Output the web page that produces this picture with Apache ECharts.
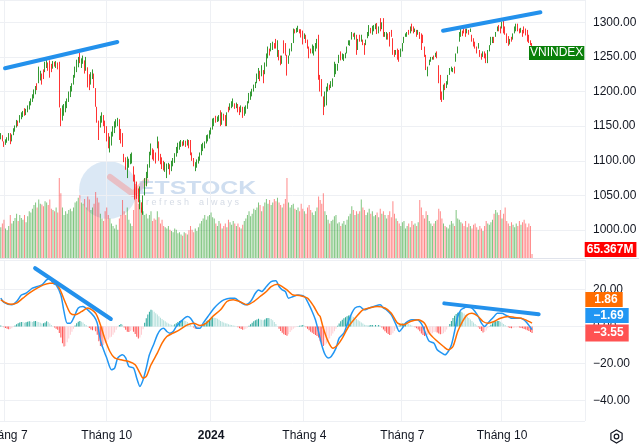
<!DOCTYPE html>
<html><head><meta charset="utf-8">
<script src="https://cdn.jsdelivr.net/npm/echarts/dist/echarts.min.js"></script>
<style>html,body{margin:0;padding:0;background:#fff}#c{width:639px;height:445px}</style>
</head><body><div id="c"></div>
<script>
// ---------- DATA ----------
const candleOpen = [
1131,1137,1128,1123,1126,1129,1140,1128,1137,1142,
1148,1158,1155,1160,1163,1176,1166,1170,1174,1180,
1185,1190,1196,1212,1212,1216,1226,1232,1228,1234,
1242,1245,1240,1233,1243,1234,1242,1243,1176,1158,
1165,1170,1176,1185,1192,1200,1210,1220,1228,1235,
1256,1234,1240,1245,1230,1235,1225,1210,1218,1226,
1205,1178,1158,1148,1155,1166,1158,1150,1140,1112,
1122,1135,1140,1148,1150,1160,1146,1140,1110,1105,
1075,1090,1095,1096,1092,1080,1070,1060,1030,1040,
1022,1050,1063,1075,1090,1108,1118,1116,1112,1118,
1128,1110,1105,1100,1084,1075,1088,1095,1085,1092,
1097,1106,1111,1116,1120,1128,1122,1129,1122,1130,
1130,1112,1104,1085,1090,1096,1100,1108,1114,1118,
1125,1128,1132,1138,1145,1150,1165,1156,1157,1173,
1152,1168,1166,1150,1178,1173,1176,1178,1183,1176,
1182,1178,1170,1178,1165,1168,1175,1183,1188,1193,
1200,1205,1212,1218,1230,1222,1231,1225,1236,1248,
1262,1258,1260,1270,1276,1250,1260,1252,1240,1274,
1270,1253,1240,1252,1258,1270,1290,1285,1286,1290,
1290,1288,1276,1282,1275,1265,1262,1255,1252,1258,
1262,1282,1224,1218,1193,1178,1180,1200,1210,1205,
1207,1221,1225,1230,1241,1258,1246,1244,1248,1255,
1267,1266,1275,1284,1275,1282,1260,1282,1272,1275,
1270,1267,1277,1280,1292,1282,1287,1290,1299,1284,
1306,1290,1306,1279,1275,1284,1286,1289,1277,1260,
1253,1262,1260,1250,1258,1270,1279,1279,1289,1284,
1298,1294,1286,1289,1282,1286,1284,1282,1265,1253,
1222,1238,1243,1246,1252,1250,1258,1238,1224,1200,
1188,1212,1205,1210,1224,1229,1228,1236,1243,1255,
1272,1279,1288,1294,1291,1284,1289,1286,1282,1277,
1272,1265,1262,1260,1255,1250,1258,1255,1241,1258,
1267,1270,1279,1279,1287,1296,1294,1291,1303,1294,
1284,1280,1268,1279,1275,1284,1287,1298,1291,1285,
1289,1294,1291,1289,1282,1274,1270
];
const candleClose = [
1140,1128,1120,1131,1134,1140,1124,1138,1147,1151,
1159,1150,1166,1170,1172,1165,1175,1180,1186,1190,
1196,1203,1208,1202,1236,1230,1210,1218,1243,1248,
1230,1220,1228,1244,1236,1244,1232,1177,1150,1180,
1182,1186,1190,1200,1208,1212,1224,1236,1246,1250,
1241,1248,1252,1226,1250,1206,1202,1228,1232,1205,
1178,1155,1130,1165,1170,1150,1140,1128,1118,1135,
1142,1150,1157,1160,1162,1130,1125,1120,1098,1087,
1106,1103,1110,1112,1070,1044,1045,1040,1063,1025,
1050,1075,1084,1095,1113,1125,1102,1100,1096,1135,
1100,1095,1088,1086,1098,1096,1097,1080,1100,1104,
1111,1120,1126,1128,1130,1121,1130,1120,1131,1118,
1108,1100,1092,1098,1102,1106,1112,1124,1126,1128,
1137,1138,1144,1148,1161,1162,1155,1164,1166,1150,
1170,1158,1150,1170,1170,1183,1186,1190,1175,1184,
1170,1166,1180,1162,1178,1180,1186,1198,1200,1204,
1210,1214,1226,1234,1215,1238,1212,1242,1255,1265,
1252,1270,1272,1262,1262,1274,1245,1238,1252,1255,
1252,1223,1252,1262,1270,1291,1284,1292,1295,1284,
1278,1268,1284,1270,1262,1248,1255,1268,1266,1270,
1276,1217,1200,1193,1166,1200,1207,1212,1202,1215,
1219,1243,1240,1240,1253,1245,1255,1254,1256,1265,
1274,1274,1286,1279,1285,1253,1276,1272,1282,1267,
1253,1275,1286,1296,1284,1295,1296,1298,1283,1294,
1287,1300,1279,1286,1286,1275,1265,1279,1253,1250,
1260,1246,1243,1262,1270,1279,1284,1286,1282,1294,
1287,1284,1291,1279,1289,1276,1260,1270,1250,1231,
1236,1246,1250,1250,1246,1256,1248,1212,1188,1185,
1210,1202,1215,1224,1234,1236,1234,1226,1255,1265,
1286,1291,1280,1284,1279,1291,1282,1291,1272,1265,
1262,1255,1270,1250,1246,1258,1248,1241,1260,1267,
1279,1279,1270,1286,1294,1287,1284,1301,1284,1282,
1270,1266,1276,1272,1284,1294,1298,1287,1284,1292,
1279,1284,1281,1272,1270,1267,1260
];
// volume in millions
const volumeM = [
500,560,620,480,450,520,700,560,600,650,
720,600,700,650,620,700,580,680,760,740,
800,860,900,820,950,880,870,840,920,900,
860,950,800,780,760,820,740,1300,1050,820,
700,760,720,780,800,760,820,900,920,980,
1020,900,880,960,820,1000,950,780,820,880,
1070,980,900,720,640,600,760,820,700,640,
560,520,480,540,460,640,700,940,760,700,
820,620,560,520,780,1200,1050,880,940,820,
760,700,720,640,700,760,600,640,620,760,
660,560,620,520,500,480,520,460,440,420,
480,460,400,420,380,360,420,400,380,450,
520,460,420,480,440,500,560,600,640,700,
620,680,700,740,660,640,560,520,600,560,
480,520,560,500,620,580,540,600,560,520,
560,500,480,540,600,640,700,760,680,720,
800,780,820,900,860,760,840,900,960,880,
940,860,900,960,920,980,900,860,820,880,
960,1300,900,820,860,880,800,780,820,760,
880,800,760,720,820,860,780,740,700,760,
820,1000,940,880,1050,760,700,620,560,600,
620,680,700,560,580,520,560,600,540,620,
680,720,840,780,700,760,720,760,950,820,
780,700,740,800,720,760,680,700,740,660,
800,720,760,700,640,700,760,660,920,720,
640,600,560,520,580,600,480,520,560,500,
600,540,560,520,580,940,820,700,640,760,
700,600,560,520,560,600,620,800,760,640,
560,520,500,480,540,600,560,520,780,640,
620,580,560,520,600,500,560,520,480,540,
560,500,460,520,480,440,520,600,560,540,
580,620,720,780,740,700,780,640,720,820,
600,560,520,580,540,500,560,520,600,540,
580,620,560,500,560,520,65.367
];
const macdHist = [
0.6,0.3,-0.4,-0.8,-1.2,-1.5,-1.4,-1.0,-0.3,0.6,
1.2,1.8,2.2,2.5,2.4,2.0,2.3,2.6,2.8,2.7,
2.5,2.8,3.0,2.6,2.4,2.0,1.6,1.8,2.2,2.8,
2.4,1.6,0.8,0.2,-0.6,-1.2,-1.8,-3.5,-6.0,-9.0,
-10.8,-10.5,-8.5,-6.5,-4.5,-2.8,-1.2,0.6,1.8,2.6,
3.0,2.6,2.2,1.4,0.8,0.2,-0.8,-1.6,-2.0,-1.8,
-2.5,-4.5,-8.0,-10.5,-11.0,-10.0,-9.0,-8.5,-7.0,-6.0,
-5.5,-4.5,-3.2,-1.8,-0.4,0.8,1.4,1.0,-0.6,-1.8,
-2.8,-3.0,-2.4,-2.0,-2.8,-4.0,-5.5,-6.5,-6.0,-4.5,
-1.5,2.0,4.5,6.5,8.0,9.0,8.8,8.0,7.2,6.5,
5.6,4.8,4.0,3.4,2.8,2.2,1.6,1.2,0.9,0.8,
1.2,1.8,2.4,3.0,3.4,3.6,3.2,3.0,2.4,1.8,
1.0,0.2,-0.6,-1.2,-1.4,-1.0,-0.4,0.4,1.2,2.0,
2.8,3.4,4.0,4.6,5.0,4.8,4.6,4.2,3.6,3.0,
2.6,2.2,1.8,1.6,1.2,1.0,0.8,0.6,0.4,0.2,
-0.4,-1.0,-1.4,-1.8,-1.6,-1.2,-0.6,0.4,1.2,2.0,
2.8,3.4,3.8,4.2,3.8,3.6,3.4,3.8,4.4,4.6,
4.4,4.0,3.4,2.4,1.4,0.2,-1.2,-2.4,-3.4,-4.2,
-4.6,-5.0,-4.2,-3.0,-2.0,-1.2,-0.6,-0.2,0.2,0.4,
0.6,0.8,0.4,-0.4,-1.2,-2.0,-2.8,-3.4,-4.0,-4.6,
-5.2,-6.0,-8.0,-9.5,-10.5,-10.0,-9.2,-8.0,-6.5,-5.0,
-3.8,-2.5,-1.2,0.4,1.6,2.8,3.6,4.4,5.0,5.6,
6.0,6.2,5.8,5.2,4.6,4.0,3.4,2.8,2.2,1.6,
1.0,0.8,0.6,0.6,0.8,0.8,0.6,0.8,0.6,0.8,
0.4,-0.6,-1.6,-2.6,-3.4,-4.0,-4.6,-4.4,-3.6,-2.4,
-1.2,-0.2,0.6,1.2,1.6,1.8,2.0,1.8,1.4,1.0,
0.6,0.2,-0.4,-1.0,-1.6,-2.6,-3.8,-4.6,-5.2,-5.0,
-4.6,-4.2,-4.0,-3.6,-3.0,-2.8,-3.2,-3.8,-4.2,-4.0,
-3.6,-2.8,-1.6,-0.2,1.4,3.0,4.6,5.8,6.8,7.4,
7.8,8.0,7.6,7.0,6.2,5.4,4.6,3.8,3.0,2.2,
1.4,0.6,-0.4,-1.4,-2.4,-3.2,-3.0,-2.2,-1.0,0.2,
1.0,1.8,2.4,2.8,3.0,3.0,2.6,2.0,1.4,0.8,
0.2,-0.4,-0.8,-1.0,-0.8,-0.6,-0.6,-0.4,-0.6,-0.8,
-1.0,-1.4,-1.6,-2.0,-2.4,-3.0,-3.55
];
// MACD line (blue) and signal line (orange): candle index and value
const macdIdx = [0,2,7,10,13,16,20,23,26,29,31,33,35,38,40,42,44,46,49,52,55,59,61,63,65,67,70,72,74,77,79,81,84,86,88,90,92,94,97,99,101,103,105,107,109,111,115,118,120,122,124,126,128,131,135,138,141,145,148,151,155,158,161,163,165,168,171,174,176,178,180,182,185,188,192,195,197,199,201,203,205,207,209,212,214,217,219,222,224,227,230,233,236,240,242,244,247,250,252,254,256,260,263,265,267,269,271,274,276,279,281,283,285,287,289,291,293,295,298,300,302,304,306,308,310,312,314,317,319,321,323,326,329,331,333,336];
const macdVal = [15.3,13,11.7,13.5,17,18,20.7,21.6,22.5,25.2,26,23.4,22.5,17,8,1.8,1.8,4.5,10,10.8,9,5.4,1.8,-7.2,-12.6,-17,-23.4,-22.5,-17,-15.3,-17,-21.6,-22.5,-28,-32.4,-28.8,-22.5,-15.3,-9,-4.5,-1.8,-0.9,-2.7,-3.6,-2.7,0,3.6,5.4,4.5,1.8,-0.9,-0.9,1.8,5.4,10,12.6,14.4,15.3,15.3,13.5,11.7,13.5,18,19.8,18.9,21.6,24.3,24.7,21.6,19.8,18.9,15.3,16.2,17,16.2,11.7,8,3.6,-3,-10,-15,-17,-16.2,-11.7,-6.3,-3.6,0.9,7.2,10,10.8,9,10,10.8,11.7,10,9,6.3,0.9,-2.7,-0.9,1.8,3.6,3.6,2.7,0,-4.5,-8,-9,-12.6,-14.4,-15.3,-13.5,-10,-2.7,5.4,9,10,10.8,10,8,5.4,1.8,0,1.8,3.6,5.4,7.2,7.2,6.3,5.4,4.5,4.5,4.5,3.6,1.8,-1.69];
const signalIdx = [0,6,10,14,18,23,27,31,34,37,41,44,47,51,55,60,63,66,69,72,76,81,85,88,90,92,95,99,102,105,109,113,118,122,126,130,134,139,143,147,151,156,160,164,168,171,175,178,181,185,189,194,198,201,202,204,207,210,213,216,220,225,229,233,238,243,247,251,255,259,264,268,271,275,280,283,286,289,292,295,298,302,305,308,312,316,321,325,329,332,336];
const signalVal = [14.4,12,12.6,15.3,18,20.7,22.5,23.4,23.4,20.7,12.6,7.2,6.3,8,10,7.2,0.9,-7.2,-13.5,-17,-18,-18.9,-20.7,-25.2,-27.9,-27,-20.7,-14.4,-9,-5.4,-3.6,-1.8,0.9,1.8,0.5,1.8,5.4,9,13.5,14.4,13.5,11.7,13.5,16.2,18.9,21.6,22.9,21.6,19.8,17,16.8,15.3,10.8,6.3,5.4,-0.9,-8,-11.7,-10,-6.3,0,5.4,9,10,10.8,10,7.2,1.8,0.9,2.7,3.6,1.8,-3.6,-7.2,-10.8,-12.6,-10.8,-2.7,2.7,6.3,7.2,5.4,2.7,1.8,2.7,4.5,5.4,4.9,4.5,3.6,1.86];
// drawn trend lines: [candle index, value] end points
const priceTrends = [[[2.7,1233.6],[73.7,1271.6]], [[279.7,1287.9],[341.3,1314.4]]];
const macdTrends  = [[[21.7,31.5],[69.6,4.05]], [[280.5,12.5],[340.2,6.6]]];
// time axis labels at candle indices
const timeLabelIdx  = [3, 67, 133, 192, 254, 317];
const timeLabelText = ['Tháng 7', 'Tháng 10', '2024', 'Tháng 4', 'Tháng 7', 'Tháng 10'];
const lastVolumeText = '65.367M';
const lastMacd = -1.69, lastSignal = 1.86, lastHist = -3.55;
const symbolName = 'VNINDEX';

// ---------- CHART ----------
const SLOTS = 370;
const categories = Array.from({length: SLOTS}, (_, i) => String(i));
const FONT = '"Liberation Sans", Arial, sans-serif';
const TXT = '#131722';
const GRIDC = '#eef0f4';
const labelMap = {};
timeLabelIdx.forEach((k, j) => labelMap[k] = timeLabelText[j]);
const isLabel = (i) => labelMap[i] !== undefined;

const candleData = candleOpen.map((o, i) => {
  const c = candleClose[i];
  return [o, c, Math.min(o, c), Math.max(o, c)];
});
const volData = volumeM.map((v, i) => ({
  value: v,
  itemStyle: {color: candleClose[i] >= candleOpen[i] ? 'rgba(0,140,0,0.5)' : 'rgba(255,40,40,0.55)'}
}));
const histData = macdHist.map((h, i) => {
  const p = i ? macdHist[i - 1] : h;
  let col;
  if (h >= 0) col = h >= p ? '#26a69a' : '#b2dfdb';
  else col = h < p ? '#ff5252' : '#ffcdd2';
  return {value: h, itemStyle: {color: col}};
});
const macdLine = macdIdx.map((x, i) => [x, macdVal[i]]);
const sigLine = signalIdx.map((x, i) => [x, signalVal[i]]);

const fmt2 = (v) => (v < 0 ? '\u2212' : '') + Math.abs(v).toFixed(2);
const END_X = SLOTS - 0.6;

function boxLabel(text, bg, pos, padding, bold) {
  return {show: true, position: pos, distance: 0, formatter: text, backgroundColor: bg,
    color: '#fff', fontSize: 12, fontFamily: FONT, fontWeight: bold ? 'bold' : 'normal',
    padding: padding, lineHeight: 13};
}

const trendStyle = {color: '#2391ec', width: 4, cap: 'round'};

const option = {
  animation: false,
  backgroundColor: '#fff',
  grid: [
    {left: 0, top: 0, width: 585, height: 258, outerBoundsMode: 'none', containLabel: false},
    {left: 0, top: 260, width: 585, height: 161, outerBoundsMode: 'none', containLabel: false}
  ],
  xAxis: [
    {type: 'category', gridIndex: 0, data: categories, boundaryGap: true,
     axisLine: {show: false}, axisTick: {show: false}, axisLabel: {show: false},
     splitLine: {show: true, interval: (i) => isLabel(i), lineStyle: {color: GRIDC}}},
    {type: 'category', gridIndex: 1, data: categories, boundaryGap: true,
     axisLine: {show: false}, axisTick: {show: false},
     axisLabel: {show: true, interval: (i) => isLabel(i), margin: 9, color: TXT, fontSize: 12, fontFamily: FONT,
       hideOverlap: false,
       formatter: (v) => { const t = labelMap[Number(v)] || ''; return /^\d{4}$/.test(t) ? '{b|' + t + '}' : t; },
       rich: {b: {fontWeight: 'bold', fontSize: 12, fontFamily: FONT, color: TXT}}},
     splitLine: {show: true, interval: (i) => isLabel(i), lineStyle: {color: GRIDC}}},
    {type: 'value', gridIndex: 0, min: -0.5, max: SLOTS - 0.5, show: false},
    {type: 'value', gridIndex: 1, min: -0.5, max: SLOTS - 0.5, show: false}
  ],
  yAxis: [
    {type: 'value', gridIndex: 0, position: 'right', min: 959.6, max: 1332.2, minInterval: 50, maxInterval: 50, splitNumber: 7,
     axisLine: {show: false}, axisTick: {show: false},
     splitLine: {show: true, lineStyle: {color: GRIDC}},
     axisLabel: {margin: 8, color: TXT, fontSize: 12, fontFamily: FONT,
       formatter: (v) => (Math.abs(v % 50) < 1e-6 ? v.toFixed(2) : '')}},
    {type: 'value', gridIndex: 0, min: 0, max: 4190, show: false},
    {type: 'value', gridIndex: 1, position: 'right', min: -51.08, max: 35.95, minInterval: 20, maxInterval: 20, splitNumber: 4,
     axisLine: {show: false}, axisTick: {show: false},
     splitLine: {show: true, lineStyle: {color: GRIDC}},
     axisLabel: {margin: 8, color: TXT, fontSize: 12, fontFamily: FONT,
       formatter: (v) => (Math.abs(v % 20) < 1e-6 ? fmt2(v) : '')}}
  ],
  graphic: [
    {type: 'circle', z: 0, shape: {cx: 108, cy: 190, r: 29}, style: {fill: 'rgba(175,205,232,0.45)'}},
    {type: 'polyline', z: 0, shape: {points: [[110, 177], [133, 194], [146, 181]]},
     style: {stroke: 'rgba(245,150,150,0.5)', lineWidth: 6, fill: null, lineCap: 'round', lineJoin: 'round'}},
    {type: 'text', z: 0, x: 138, y: 189, scaleX: 1.38, style: {text: 'ETSTOCK', font: 'bold 18px ' + FONT, fill: 'rgba(160,190,225,0.5)', verticalAlign: 'middle'}},
    {type: 'text', z: 0, x: 146, y: 203, style: {text: 'r e f r e s h    a l w a y s', font: '9px ' + FONT, fill: 'rgba(150,165,190,0.4)', verticalAlign: 'middle'}},
    {type: 'line', z: 5, shape: {x1: 0, y1: 258.5, x2: 639, y2: 258.5}, style: {stroke: '#e0e3eb', lineWidth: 1}},
    {type: 'polygon', z: 5, shape: {points: [[616.5, 430], [622.1, 433.25], [622.1, 439.75], [616.5, 443], [610.9, 439.75], [610.9, 433.25]]},
     style: {stroke: TXT, fill: null, lineWidth: 1.2}},
    {type: 'circle', z: 5, shape: {cx: 616.5, cy: 436.5, r: 2.3}, style: {stroke: TXT, fill: null, lineWidth: 1.2}}
  ],
  series: [
    {type: 'bar', name: 'vol', xAxisIndex: 0, yAxisIndex: 1, data: volData, barWidth: 1, z: 1,
     markPoint: {symbol: 'rect', symbolSize: 1, itemStyle: {color: 'rgba(0,0,0,0)'},
       data: [{coord: [String(SLOTS - 1), 138], label: boxLabel(lastVolumeText, '#ff0000', 'right', [1, 3, 1, 2], true)}]}},
    {type: 'candlestick', name: 'price', xAxisIndex: 0, yAxisIndex: 0, data: candleData, barWidth: 1, z: 3,
     itemStyle: {color: '#008000', color0: '#ff0000', borderColor: '#008000', borderColor0: '#ff0000', borderWidth: 0.8}},
    {type: 'bar', name: 'hist', xAxisIndex: 1, yAxisIndex: 2, data: histData, barWidth: 1},
    {type: 'line', name: 'macd', xAxisIndex: 3, yAxisIndex: 2, data: macdLine, showSymbol: false, smooth: 0.25,
     lineStyle: {color: '#2196f3', width: 1.5}, z: 4},
    {type: 'line', name: 'signal', xAxisIndex: 3, yAxisIndex: 2, data: sigLine, showSymbol: false, smooth: 0.25,
     lineStyle: {color: '#ff6d00', width: 1.5}, z: 4},
    {type: 'line', xAxisIndex: 2, yAxisIndex: 0, data: priceTrends[0], showSymbol: false, lineStyle: trendStyle, z: 6},
    {type: 'line', xAxisIndex: 2, yAxisIndex: 0, data: priceTrends[1], showSymbol: false, lineStyle: trendStyle, z: 6,
     markPoint: {symbol: 'rect', symbolSize: 1, itemStyle: {color: 'rgba(0,0,0,0)'},
       data: [{coord: [END_X, 1255.7], label: boxLabel(symbolName, '#0a800a', 'left', [1, 1, 0, 1], false)}]}},
    {type: 'line', xAxisIndex: 3, yAxisIndex: 2, data: macdTrends[0], showSymbol: false, lineStyle: trendStyle, z: 6},
    {type: 'line', xAxisIndex: 3, yAxisIndex: 2, data: macdTrends[1], showSymbol: false, lineStyle: trendStyle, z: 6,
     markPoint: {symbol: 'rect', symbolSize: 1, itemStyle: {color: 'rgba(0,0,0,0)'},
       data: [
         {coord: [END_X, 14.6], label: boxLabel(fmt2(lastSignal), '#ff6d00', 'right', [1, 5, 1, 9], true)},
         {coord: [END_X, 6.0], label: boxLabel(fmt2(lastMacd), '#2196f3', 'right', [1, 5, 1, 8], true)},
         {coord: [END_X, lastHist], label: boxLabel(fmt2(lastHist), '#ff5252', 'right', [2, 5, 2, 8], true)}
       ]}}
  ]
};
const chart = echarts.init(document.getElementById('c'), null, {renderer: 'canvas'});
chart.setOption(option);
</script>
</body></html>
